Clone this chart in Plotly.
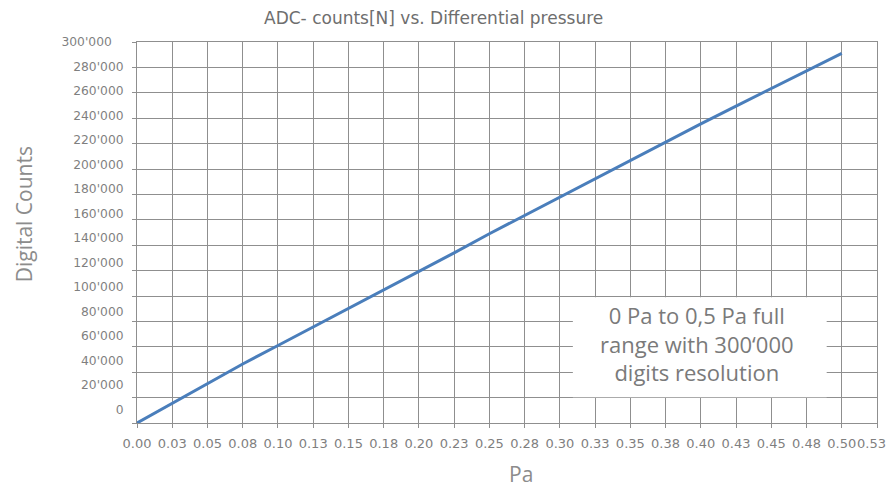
import plotly.graph_objects as go

# ---- data ----
pressure_pa = [0.0, 0.025, 0.05, 0.075, 0.1, 0.125, 0.15, 0.175, 0.2, 0.225, 0.25,
               0.275, 0.3, 0.325, 0.35, 0.375, 0.4, 0.425, 0.45, 0.475, 0.5]
digital_counts = [0, 15500, 31500, 46500, 61000, 75500, 90000, 104500, 119500, 134000, 149000,
                  163500, 178000, 192500, 207000, 221000, 235500, 249500, 263500, 277500, 291000]

x_tick_vals = [0.0, 0.025, 0.05, 0.075, 0.1, 0.125, 0.15, 0.175, 0.2, 0.225, 0.25,
               0.275, 0.3, 0.325, 0.35, 0.375, 0.4, 0.425, 0.45, 0.475, 0.5, 0.525]
x_tick_labels = ["0.00", "0.03", "0.05", "0.08", "0.10", "0.13", "0.15", "0.18", "0.20", "0.23", "0.25",
                 "0.28", "0.30", "0.33", "0.35", "0.38", "0.40", "0.43", "0.45", "0.48", "0.50", "0.53"]
y_tick_vals = [0, 20000, 40000, 60000, 80000, 100000, 120000, 140000, 160000, 180000,
               200000, 220000, 240000, 260000, 280000, 300000]
y_tick_labels = ["0", "20'000", "40'000", "60'000", "80'000", "100'000", "120'000", "140'000",
                 "160'000", "180'000", "200'000", "220'000", "240'000", "260'000", "280'000",
                 "300'000\u00a0\u00a0\u00a0"]

title_text = "ADC- counts[N] vs. Differential pressure"
x_title = "Pa"
y_title = "Digital Counts"
note_text = "0 Pa to 0,5 Pa full<br>range with 300\u2018000<br>digits resolution"

GRID = "#8f8f8f"
LABEL = "#7f7f7f"
LINE = "#4a7ebb"
XFONT = dict(family="DejaVu Sans", size=13, color=LABEL)

fig = go.Figure()
fig.add_trace(go.Scatter(x=pressure_pa, y=digital_counts, mode="lines",
                         line=dict(color=LINE, width=3), showlegend=False,
                         hoverinfo="x+y"))
# invisible helper trace so the label axis is rendered
fig.add_trace(go.Scatter(x=[pressure_pa[0]], y=[digital_counts[0]], yaxis="y2",
                         mode="markers", marker=dict(opacity=0), showlegend=False,
                         hoverinfo="skip"))

# last x tick label sits at the very right edge; it is drawn separately so it stays inside
axis_tick_text = x_tick_labels[:-1] + [""]

fig.update_layout(
    width=886, height=488,
    margin=dict(l=137, r=9, t=42, b=65, autoexpand=False),
    paper_bgcolor="white", plot_bgcolor="white",
    font=dict(family="DejaVu Sans", color=LABEL),
    xaxis=dict(range=[0, 0.525], tickmode="array", tickvals=x_tick_vals, ticktext=axis_tick_text,
               showgrid=True, gridcolor=GRID, gridwidth=1.2, zeroline=False,
               showline=True, linecolor=GRID, linewidth=1.2, mirror=True,
               ticks="outside", ticklen=4, tickcolor=GRID, ticklabelstandoff=4,
               tickangle=0, tickfont=XFONT),
    yaxis=dict(range=[0, 300000], tickmode="array", tickvals=y_tick_vals,
               showticklabels=False,
               showgrid=True, gridcolor=GRID, gridwidth=1.2, zeroline=False,
               showline=True, linecolor=GRID, linewidth=1.2, mirror=True,
               ticks="outside", ticklen=4, tickcolor=GRID),
    yaxis2=dict(overlaying="y", side="left", range=[-10936, 300000],
                tickmode="array", tickvals=y_tick_vals, ticktext=y_tick_labels,
                showgrid=False, zeroline=False, showline=False,
                ticks="outside", ticklen=10, tickcolor="rgba(0,0,0,0)",
                ticklabeloverflow="allow",
                tickfont=dict(family="DejaVu Sans", size=12.3, color=LABEL)),
)

fig.add_annotation(text=x_tick_labels[-1], xref="x", yref="paper", x=x_tick_vals[-1],
                   y=-(443 - 422.7) / 381, xanchor="center", yanchor="middle", xshift=-6,
                   borderpad=0, showarrow=False, font=XFONT)

fig.add_shape(type="rect", xref="paper", yref="paper", x0=0.589, x1=0.932, y0=0.0675, y1=0.330,
              fillcolor="white", line=dict(width=0), layer="above")

fig.add_annotation(text=title_text, xref="paper", yref="paper", x=(433.5 - 137) / 740,
                   y=1 + (41.7 - 18) / 381, xanchor="center", yanchor="middle", showarrow=False,
                   font=dict(family="DejaVu Sans", size=17, color="#6e6e6e"))
fig.add_annotation(text=y_title, xref="paper", yref="paper", x=(24 - 137) / 740,
                   y=(422.7 - 214) / 381, xanchor="center", yanchor="middle", showarrow=False,
                   textangle=-90, font=dict(family="Open Sans", size=21, color="#8c8c8c"))
fig.add_annotation(text=x_title, xref="paper", yref="paper", x=(521 - 137) / 740,
                   y=-(474 - 422.7) / 381, xanchor="center", yanchor="middle", showarrow=False,
                   font=dict(family="Open Sans", size=21, color="#8c8c8c"))
fig.add_annotation(text=note_text, xref="paper", yref="paper", x=(697 - 137) / 740,
                   y=(422.7 - 343.5) / 381, xanchor="center", yanchor="middle", showarrow=False,
                   align="center", font=dict(family="Open Sans", size=22, color="#7a7a7a"))

fig.write_html("out.html", config={"displayModeBar": False},
               post_script="document.body.style.margin='0px';document.body.style.padding='0px';")
